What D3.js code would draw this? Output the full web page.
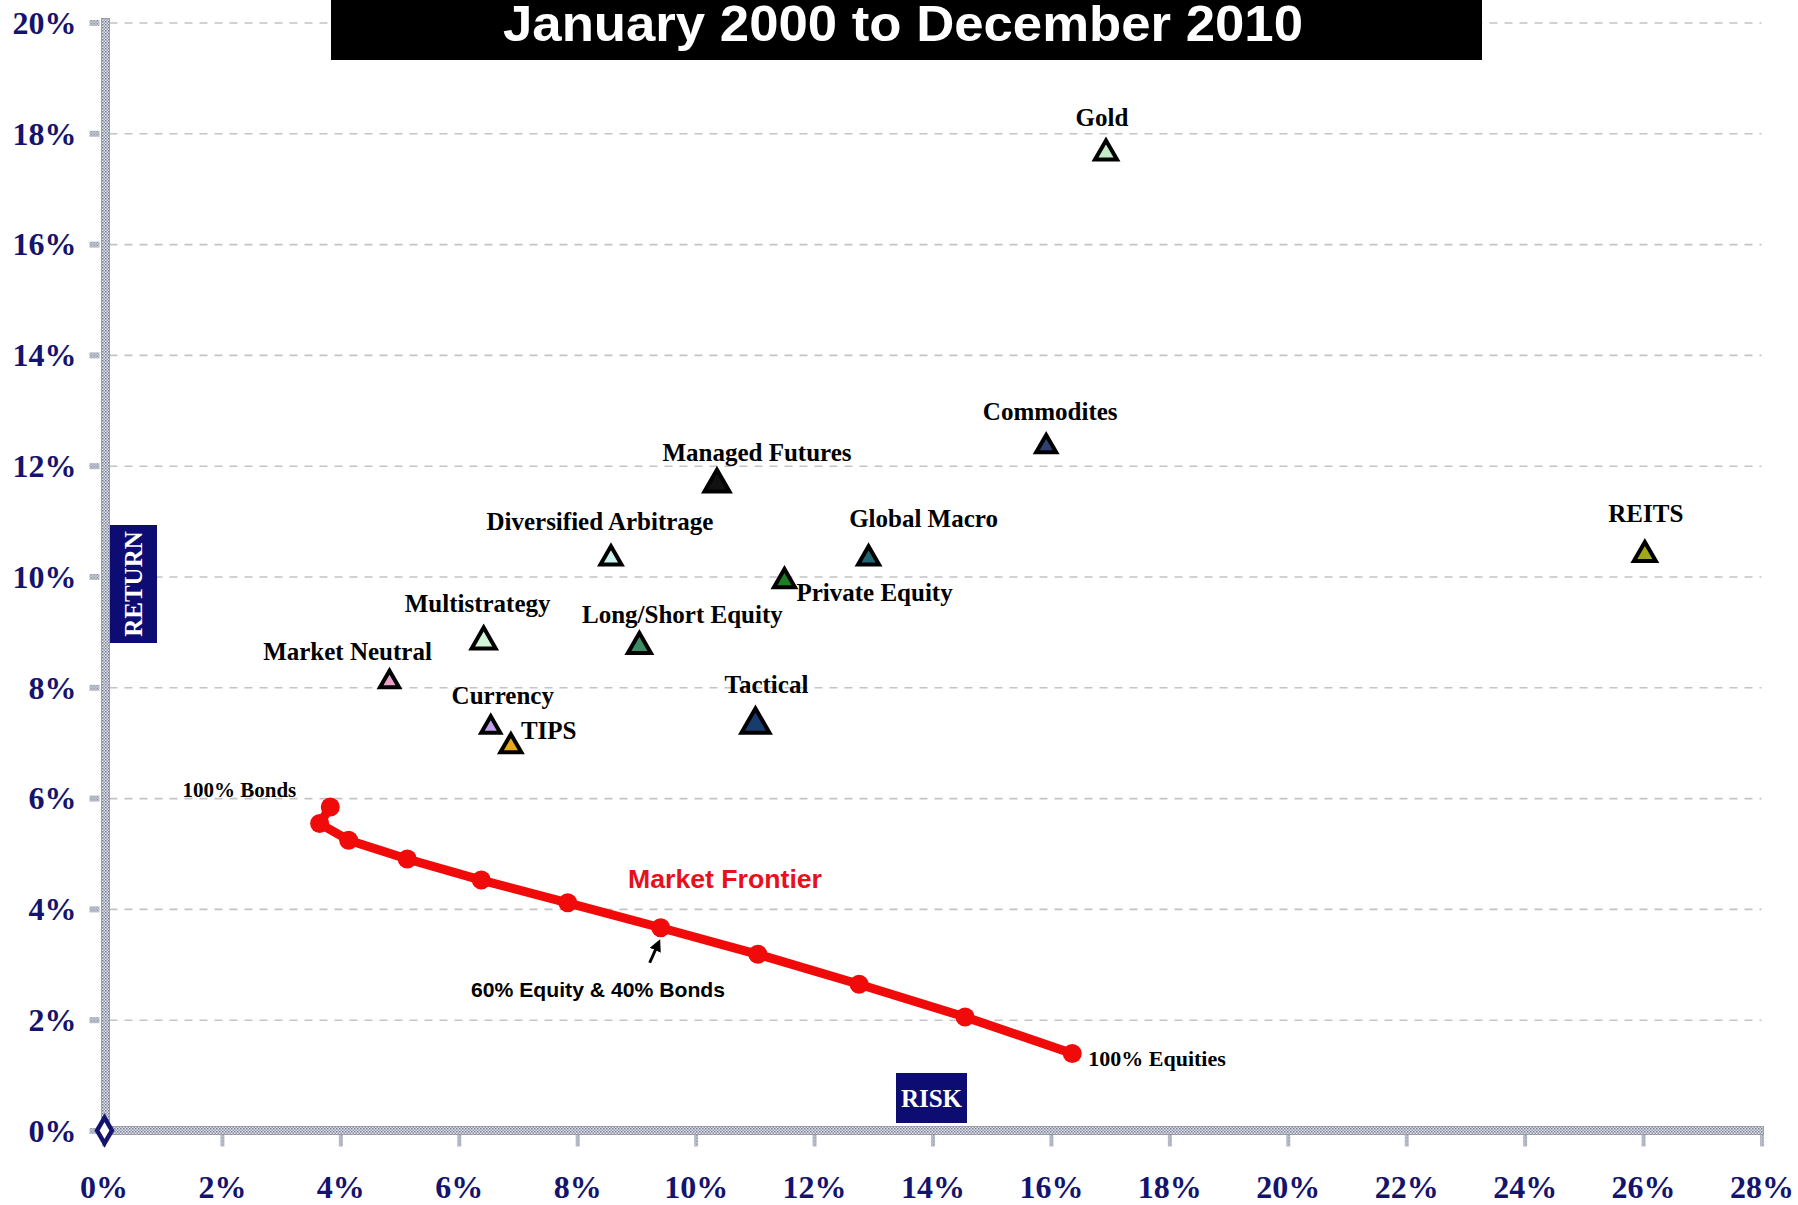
<!DOCTYPE html>
<html>
<head>
<meta charset="utf-8">
<script src="https://cdn.jsdelivr.net/npm/d3@7"></script>
<style>
  html, body { margin: 0; padding: 0; background: #ffffff; }
  svg { display: block; }
</style>
</head>
<body>
<script>
// ---------------- DATA ----------------
const categories = ["Gold", "Commodites", "REITS", "Managed Futures", "Diversified Arbitrage",
  "Global Macro", "Private Equity", "Multistrategy", "Long/Short Equity", "Market Neutral",
  "Currency", "TIPS", "Tactical"];
const riskValues   = [16.93, 15.92, 26.03, 10.36, 8.57, 12.92, 11.50, 6.42, 9.05, 4.83, 6.54, 6.88, 11.01];
const returnValues = [17.70, 12.40, 10.45, 11.73, 10.38, 10.38, 9.97, 8.89, 8.80, 8.15, 7.33, 6.99, 7.40];

const frontierRisk   = [3.83, 3.65, 4.14, 5.13, 6.38, 7.84, 9.41, 11.05, 12.76, 14.55, 16.36];
const frontierReturn = [5.84, 5.54, 5.24, 4.90, 4.52, 4.11, 3.66, 3.18, 2.64, 2.05, 1.39];

const xTickValues = [0, 2, 4, 6, 8, 10, 12, 14, 16, 18, 20, 22, 24, 26, 28];
const yTickValues = [0, 2, 4, 6, 8, 10, 12, 14, 16, 18, 20];

const titleText = "January 2000 to December 2010";

// ---------------- STYLE / LAYOUT ----------------
const W = 1798, H = 1205;
const serif = "'Liberation Serif', 'DejaVu Serif', serif";
const sans = "'Liberation Sans', Arial, sans-serif";
const navy = "#14146e";

const markerStyle = {
  "Gold":                  { fill: "#c6ecc6", w: 22, lx: -4, ly: -24, anchor: "middle" },
  "Commodites":            { fill: "#2e4272", w: 20, lx: 4,  ly: -24, anchor: "middle" },
  "REITS":                 { fill: "#a2a81e", w: 22, lx: 1,  ly: -30, anchor: "middle" },
  "Managed Futures":       { fill: "#111111", w: 25, lx: 40, ly: -20, anchor: "middle" },
  "Diversified Arbitrage": { fill: "#cdf2f2", w: 21, lx: -11, ly: -25, anchor: "middle" },
  "Global Macro":          { fill: "#1f6470", w: 21, lx: 55, ly: -28, anchor: "middle" },
  "Private Equity":        { fill: "#1d7f24", w: 21, lx: 12, ly: 23, anchor: "start" },
  "Multistrategy":         { fill: "#d2f5d8", w: 24, lx: -6, ly: -26, anchor: "middle" },
  "Long/Short Equity":     { fill: "#3c8c64", w: 23, lx: 43, ly: -20, anchor: "middle" },
  "Market Neutral":        { fill: "#e8a0c8", w: 19, lx: -42, ly: -19, anchor: "middle" },
  "Currency":              { fill: "#c0a0e8", w: 19, lx: 12, ly: -20, anchor: "middle" },
  "TIPS":                  { fill: "#e8a81c", w: 21, lx: 10, ly: -4, anchor: "start" },
  "Tactical":              { fill: "#183c6c", w: 28, lx: 11, ly: -28, anchor: "middle" }
};

const svg = d3.select("body").append("svg")
  .attr("width", W).attr("height", H)
  .attr("viewBox", `0 0 ${W} ${H}`);

svg.append("rect").attr("width", W).attr("height", H).attr("fill", "#ffffff");

const defs = svg.append("defs");
const pat = defs.append("pattern").attr("id", "dither")
  .attr("width", 3).attr("height", 3).attr("patternUnits", "userSpaceOnUse");
pat.append("rect").attr("width", 3).attr("height", 3).attr("fill", "#dfe1e8");
pat.append("rect").attr("width", 1.5).attr("height", 1.5).attr("fill", "#767d90");
pat.append("rect").attr("x", 1.5).attr("y", 1.5).attr("width", 1.5).attr("height", 1.5).attr("fill", "#959bac");

defs.append("marker").attr("id", "arrowHead")
  .attr("viewBox", "0 0 10 10").attr("refX", 5).attr("refY", 5)
  .attr("markerWidth", 4).attr("markerHeight", 5).attr("orient", "auto")
  .append("path").attr("d", "M0,0 L10,5 L0,10 Z").attr("fill", "#000");

const x = d3.scaleLinear().domain([0, 28]).range([103.5, 1761.5]);
const y = d3.scaleLinear().domain([0, 20]).range([1130.5, 22.5]);

// ---- grid lines (dashed)
const grid = svg.append("g")
  .attr("transform", `translate(${x(0) + 6},0)`)
  .call(d3.axisRight(y).tickValues(yTickValues.filter(v => v > 0))
    .tickSize(x(28) - x(0) - 6).tickFormat(""));
grid.select(".domain").remove();
grid.selectAll("line").attr("stroke", "#c4c4c4").attr("stroke-width", 1.6)
  .attr("stroke-dasharray", "8,7");

// ---- title
svg.append("rect").attr("x", 331).attr("y", -2).attr("width", 1151).attr("height", 62).attr("fill", "#000");
svg.append("text").attr("x", 903).attr("y", 41)
  .attr("text-anchor", "middle")
  .attr("font-family", sans).attr("font-weight", "bold").attr("font-size", 50)
  .attr("textLength", 800).attr("lengthAdjust", "spacingAndGlyphs")
  .attr("fill", "#ffffff").text(titleText);

// ---- y axis (labels + ticks)
const yAx = svg.append("g")
  .attr("transform", `translate(${x(0) - 4},0)`)
  .call(d3.axisLeft(y).tickValues(yTickValues).tickSize(10).tickPadding(13)
    .tickFormat(d => d + "%"));
yAx.select(".domain").remove();
yAx.selectAll(".tick line").attr("stroke", "url(#dither)").attr("stroke-width", 6);
yAx.selectAll(".tick text")
  .attr("font-family", serif).attr("font-weight", "bold").attr("font-size", 32)
  .attr("fill", navy).attr("dy", "0.34em");

// y axis bar
svg.append("rect").attr("x", x(0) - 2).attr("y", y(20) - 4)
  .attr("width", 8).attr("height", y(0) - y(20) + 4)
  .attr("fill", "url(#dither)").attr("stroke", "#8a90a0").attr("stroke-width", 0.8);

// ---- x axis (labels + ticks)
const xAx = svg.append("g")
  .attr("transform", `translate(0,${y(0) + 4})`)
  .call(d3.axisBottom(x).tickValues(xTickValues).tickSize(12).tickPadding(29)
    .tickFormat(d => d + "%"));
xAx.select(".domain").remove();
xAx.selectAll(".tick line").attr("stroke", "url(#dither)").attr("stroke-width", 4);
xAx.selectAll(".tick text")
  .attr("font-family", serif).attr("font-weight", "bold").attr("font-size", 32)
  .attr("fill", navy);

// x axis bar
svg.append("rect").attr("x", x(0)).attr("y", y(0) - 4)
  .attr("width", x(28) - x(0) + 2).attr("height", 8)
  .attr("fill", "url(#dither)").attr("stroke", "#8a90a0").attr("stroke-width", 0.8);

// origin diamond
svg.append("path")
  .attr("d", d3.symbol(d3.symbolDiamond, 190)())
  .attr("transform", `translate(${x(0) + 1},${y(0)})`)
  .attr("fill", "#ffffff").attr("stroke", navy).attr("stroke-width", 4.5);

// ---- RETURN / RISK boxes
svg.append("rect").attr("x", 110).attr("y", 525).attr("width", 47).attr("height", 118).attr("fill", "#0c0c72");
svg.append("text").attr("transform", "translate(142,584) rotate(-90)")
  .attr("text-anchor", "middle")
  .attr("font-family", serif).attr("font-weight", "bold").attr("font-size", 25)
  .attr("fill", "#fff").text("RETURN");
svg.append("rect").attr("x", 896).attr("y", 1073).attr("width", 71).attr("height", 50).attr("fill", "#0c0c72");
svg.append("text").attr("x", 931.5).attr("y", 1107)
  .attr("text-anchor", "middle")
  .attr("font-family", serif).attr("font-weight", "bold").attr("font-size", 25)
  .attr("fill", "#fff").text("RISK");

// ---- market frontier
const frontier = frontierRisk.map((r, i) => ({ r, ret: frontierReturn[i] }));
svg.append("path").datum(frontier)
  .attr("d", d3.line().x(d => x(d.r)).y(d => y(d.ret)))
  .attr("fill", "none").attr("stroke", "#f00a0a").attr("stroke-width", 9)
  .attr("stroke-linejoin", "round").attr("stroke-linecap", "round");
svg.selectAll(".fpt").data(frontier).enter().append("circle")
  .attr("class", "fpt")
  .attr("cx", d => x(d.r)).attr("cy", d => y(d.ret)).attr("r", 9.5)
  .attr("fill", "#f00a0a");

const firstF = frontier[0], lastF = frontier[frontier.length - 1], midF = frontier[6];
svg.append("text").attr("x", x(firstF.r) - 34).attr("y", y(firstF.ret) - 10)
  .attr("text-anchor", "end")
  .attr("font-family", serif).attr("font-weight", "bold").attr("font-size", 21)
  .attr("fill", "#000").text("100% Bonds");
svg.append("text").attr("x", x(lastF.r) + 16).attr("y", y(lastF.ret) + 13)
  .attr("font-family", serif).attr("font-weight", "bold").attr("font-size", 22)
  .attr("fill", "#000").text("100% Equities");

svg.append("text").attr("x", 725).attr("y", 888)
  .attr("text-anchor", "middle")
  .attr("font-family", sans).attr("font-weight", "bold").attr("font-size", 26)
  .attr("textLength", 194).attr("lengthAdjust", "spacingAndGlyphs")
  .attr("fill", "#e8101a").text("Market Frontier");

svg.append("line")
  .attr("x1", x(midF.r) - 11).attr("y1", y(midF.ret) + 35)
  .attr("x2", x(midF.r) - 3).attr("y2", y(midF.ret) + 17)
  .attr("stroke", "#000").attr("stroke-width", 3)
  .attr("marker-end", "url(#arrowHead)");
svg.append("text").attr("x", 598).attr("y", 997)
  .attr("text-anchor", "middle")
  .attr("font-family", sans).attr("font-weight", "bold").attr("font-size", 21)
  .attr("textLength", 254).attr("lengthAdjust", "spacingAndGlyphs")
  .attr("fill", "#000").text("60% Equity & 40% Bonds");

// ---- asset class triangles
const assets = categories.map((c, i) => ({ name: c, risk: riskValues[i], ret: returnValues[i] }));
const tri = svg.append("g");
assets.forEach(d => {
  const st = markerStyle[d.name];
  const size = st.w * st.w * Math.sqrt(3) / 4;
  const k = Math.sqrt(size / (Math.sqrt(3) * 3));
  tri.append("path")
    .attr("d", d3.symbol(d3.symbolTriangle, size)())
    .attr("transform", `translate(${x(d.risk)},${y(d.ret) + k / 2})`)
    .attr("fill", st.fill).attr("stroke", "#000").attr("stroke-width", 4)
    .attr("stroke-linejoin", "miter");
  tri.append("text")
    .attr("x", x(d.risk) + st.lx).attr("y", y(d.ret) + st.ly)
    .attr("text-anchor", st.anchor)
    .attr("font-family", serif).attr("font-weight", "bold").attr("font-size", 25)
    .attr("fill", "#000").text(d.name);
});
</script>
</body>
</html>
